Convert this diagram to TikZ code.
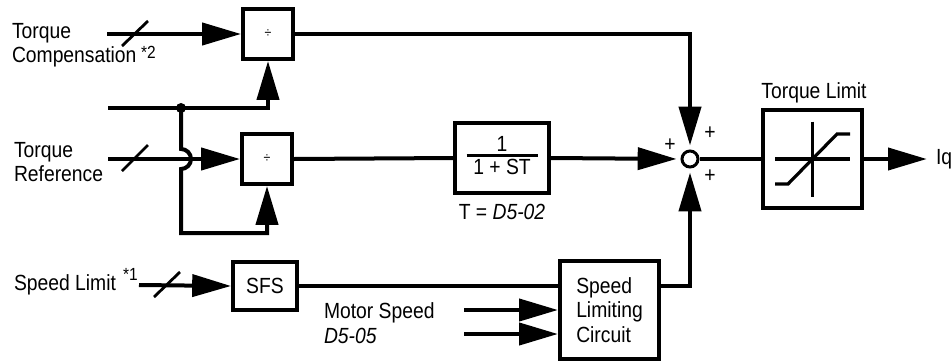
\documentclass[tikz,border=0pt]{standalone}
\usepackage{fontspec}
\setmainfont{Liberation Sans}[FakeStretch=0.88]
\usetikzlibrary{arrows.meta,positioning,calc}

\begin{document}
\begin{tikzpicture}[x=0.025cm, y=-0.025cm, line width=0.1cm, font=\fontsize{15.6}{17.4}\selectfont, blk/.style={draw, line width=0.1cm, inner sep=0, align=center}, sig/.style={-{Triangle[length=0.97cm, width=0.55cm]}}, txt/.style={inner sep=0, align=left, anchor=west}, sml/.style={inner sep=0, anchor=west, font=\fontsize{12.5}{14}\selectfont}, bus/.style={line width=0.07cm}, pls/.style={inner sep=0}]
\useasboundingbox (0,0) rectangle (952,362);
% blocks
\node[blk, minimum size=1.25cm, font=\fontsize{10}{12}\selectfont] (tcdiv) at (268,34) {÷};
\node[blk, minimum size=1.25cm, font=\fontsize{10}{12}\selectfont] (trdiv) at (267,159) {÷};
\node[blk, minimum width=2.33cm, minimum height=1.75cm] (lag) at (502,158) {{\setlength\tabcolsep{0.17cm}\begin{tabular}{c}1\\[-3pt]\noalign{\hrule height 0.075cm}1 + ST\end{tabular}}};
\node[draw, circle, line width=0.075cm, minimum size=0.4cm, inner sep=0] (sum) at (690,159) {};
\node[blk, minimum width=2.48cm, minimum height=2.43cm] (tlim) at (812.5,159) {};
\node[blk, minimum width=1.6cm, minimum height=1.22cm] (sfs) at (265,286) {SFS};
\node[blk, minimum width=2.48cm, minimum height=2.45cm, align=left] (slc) at (609.5,310) {Speed\\Limiting\\Circuit};
\node[circle, fill, inner sep=0, minimum size=0.25cm] (jct) at (181,108) {};
% limiter curve
\begin{scope}[shift={(tlim.center)}, line width=0.08cm]
\draw (-37.5,0) -- (37.5,0);
\draw (0,-37.5) -- (0,37.5);
\draw (-37.5,25) -- (-24.5,25) -- (24.5,-25) -- (37.5,-25);
\end{scope}
% labels
\node[txt] (tclbl) at (10,45) {Torque\\Compensation};
\node[sml] (tcnote) at (139,52) {*2};
\node[txt] (trlbl) at (12,162) {Torque\\Reference};
\node[txt] (sllbl) at (12,285) {Speed Limit};
\node[sml] (slnote) at (121,274) {*1};
\node[txt] (mslbl) at (322,323) {Motor Speed\\\textit{D5-05}};
\node (tlbl) at (502,212) {T = \textit{D5-02}};
\node (tllbl) at (814,93) {Torque Limit};
\node[txt] (iq) at (934,159) {Iq};
\node[pls] (pl) at (670,145) {+};
\node[pls] (pu) at (710,133) {+};
\node[pls] (pd) at (710,176) {+};
% inputs
\coordinate (tcin) at (107,34);
\coordinate (fbin) at (108,108);
\coordinate (trin) at (108,159);
\coordinate (slin) at (139,285);
\coordinate (msa) at (464,310);
\coordinate (msb) at (464,334);
% signals
\draw[sig] (tcin) -- (tcdiv.west);
\draw (fbin) -- (jct.center);
\draw[sig] (jct.center) -| (tcdiv.south);
\draw[sig] (jct.center) -- ($(jct.center |- trin)+(0,-10)$) arc[start angle=-90, end angle=90, radius=10] -- ($(jct.center)+(0,125)$) -| (trdiv.south);
\draw[sig] (trin) -- (trdiv.west);
\draw (trdiv.east) -- (lag.west);
\draw[sig, shorten >=0.1cm] (lag.east) -- (sum.west);
\draw[sig, shorten >=0.1cm] (tcdiv.east) -| (sum.north);
\draw[sig] (slin) -- (sfs.west);
\draw (sfs.east) -- (sfs.east -| slc.west);
\draw[sig] (msa) -- (msa -| slc.west);
\draw[sig] (msb) -- (msb -| slc.west);
\draw[sig, shorten >=0.1cm] (slc.east |- sfs.east) -| (sum.south);
\draw (sum.east) -- (tlim.west);
\draw[sig, shorten >=0.18cm] (tlim.east) -- (iq.west);
% bus marks
\draw[bus] (122,46) -- (148,21);
\draw[bus] (122,171) -- (148,145);
\draw[bus] (154,297) -- (180,272);
\end{tikzpicture}
\end{document}
